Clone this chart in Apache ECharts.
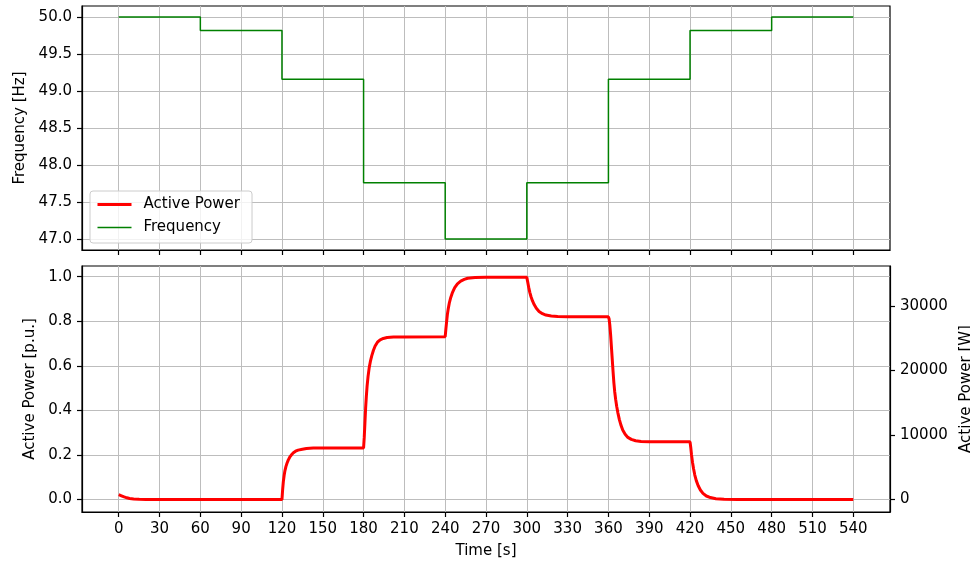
<!DOCTYPE html>
<html>
<head>
<meta charset="utf-8">
<script src="https://cdn.jsdelivr.net/npm/echarts@6/dist/echarts.min.js"></script>
<style>html,body{margin:0;padding:0;background:#fff}#c{width:970px;height:563px}</style>
</head>
<body>
<div id="c"></div>
<script>
// ---- data ----
const timeTicks = [0, 30, 60, 90, 120, 150, 180, 210, 240, 270, 300, 330, 360, 390, 420, 450, 480, 510, 540];
const freqTicks = [47.0, 47.5, 48.0, 48.5, 49.0, 49.5, 50.0];
const puTicks = [0.0, 0.2, 0.4, 0.6, 0.8, 1.0];
const wattTicks = [0, 10000, 20000, 30000];

// frequency steps: [time s, Hz]
const frequency = [
  [0, 50.0], [60, 49.82], [120, 49.16], [180, 47.76], [240, 47.0],
  [300, 47.76], [360, 49.16], [420, 49.82], [480, 50.0], [540, 50.0]
];

// active power: [time s, p.u.]
const activePower = [
  [0, 0.022], [2, 0.017], [4, 0.012], [6, 0.008], [8, 0.005], [11, 0.003], [15, 0.001], [20, 0.0],
  [60, 0.0], [100, 0.0], [120, 0.0],
  [120.5, 0.045], [121, 0.08], [121.6, 0.108], [122.2, 0.13], [122.9, 0.148], [123.7, 0.163], [124.6, 0.177],
  [125.7, 0.19], [127, 0.201], [128.4, 0.21], [130, 0.217], [131.9, 0.222], [135, 0.226],
  [138, 0.229], [143, 0.231], [150, 0.232], [180, 0.232],
  [180.5, 0.28], [181, 0.345], [181.5, 0.41], [182, 0.46], [182.6, 0.51], [183.3, 0.553], [184.1, 0.59],
  [185, 0.62], [186, 0.645], [187.2, 0.669], [188.5, 0.689], [190.2, 0.706], [192.2, 0.717], [194.5, 0.723],
  [197.3, 0.727], [202, 0.729], [210, 0.73], [240, 0.731],
  [240.5, 0.765], [241, 0.795], [241.6, 0.83], [242.3, 0.858], [243.1, 0.884], [244.1, 0.907], [245.4, 0.93],
  [247, 0.951], [249, 0.968], [251.4, 0.98], [254, 0.988], [256.5, 0.993], [262, 0.996],
  [270, 0.997], [300, 0.997],
  [300.7, 0.975], [301.4, 0.952], [302.2, 0.93], [303.1, 0.91], [304.2, 0.891], [305.4, 0.875], [307, 0.858],
  [309, 0.844], [311.5, 0.834], [314, 0.828], [318, 0.824], [322.7, 0.821], [330, 0.82], [360, 0.82],
  [360.5, 0.81], [361, 0.785], [361.6, 0.74], [362.2, 0.685], [362.8, 0.63], [363.4, 0.575], [364, 0.525],
  [364.6, 0.485], [365.3, 0.45], [366.1, 0.418], [367, 0.388], [368, 0.36], [369.2, 0.334], [370.6, 0.311],
  [372.3, 0.293], [374.3, 0.279], [376.8, 0.27], [380, 0.264], [384, 0.261], [390, 0.26], [420, 0.259],
  [420.5, 0.235], [421.1, 0.2], [421.8, 0.168], [422.6, 0.138], [423.5, 0.11], [424.6, 0.085], [426, 0.062],
  [427.6, 0.043], [429.5, 0.028], [432, 0.016], [435, 0.009], [439, 0.004], [445, 0.001], [455, 0.0], [540, 0.0]
];

// ---- chart ----
const FONT = 'DejaVu Sans';
const gridLine = { show: true, lineStyle: { color: '#bdbdbd', width: 1 } };
const spine = { show: true, onZero: false, lineStyle: { color: '#000', width: 1.2 } };
const tick = (vals) => ({ show: true, length: 5, inside: false, customValues: vals, lineStyle: { color: '#000', width: 1.2 } });
const label = (vals, fmt, show) => ({
  show: show !== false, customValues: vals, margin: 10, color: '#000', fontSize: 15, fontFamily: FONT,
  formatter: fmt
});
const nameStyle = { fontSize: 15, fontFamily: FONT, color: '#000' };

const chart = echarts.init(document.getElementById('c'), null, { renderer: 'canvas' });
chart.setOption({
  animation: false,
  backgroundColor: '#fff',
  textStyle: { fontFamily: FONT },
  grid: [
    { left: 82, top: 6, width: 808, height: 244, containLabel: false, outerBoundsMode: 'none',
      show: true, borderColor: '#000', borderWidth: 1.2, backgroundColor: 'transparent' },
    { left: 82, top: 266, width: 808, height: 246, containLabel: false, outerBoundsMode: 'none',
      show: true, borderColor: '#000', borderWidth: 1.2, backgroundColor: 'transparent' }
  ],
  legend: {
    left: 90, top: 191, orient: 'vertical',
    padding: [6, 12, 8, 6], itemGap: 8, itemWidth: 34, itemHeight: 17,
    backgroundColor: 'rgba(255,255,255,0.8)', borderColor: '#cccccc', borderWidth: 1, borderRadius: 3,
    itemStyle: { color: 'transparent', borderWidth: 0, opacity: 0 },
    textStyle: { fontSize: 15, fontFamily: FONT, color: '#000', padding: [0, 0, 0, 7] },
    data: [
      { name: 'Active Power', lineStyle: { width: 3, color: '#ff0000' } },
      { name: 'Frequency', lineStyle: { width: 1.5, color: '#008000' } }
    ]
  },
  xAxis: [
    {
      type: 'value', gridIndex: 0, min: -27, max: 567,
      axisLine: spine, axisTick: tick(timeTicks), axisLabel: label(timeTicks, v => String(v), false),
      splitLine: gridLine
    },
    {
      type: 'value', gridIndex: 1, min: -27, max: 567,
      axisLine: spine, axisTick: tick(timeTicks), axisLabel: label(timeTicks, v => String(v)),
      splitLine: gridLine,
      name: 'Time [s]', nameLocation: 'middle', nameGap: 32, nameTextStyle: nameStyle
    }
  ],
  yAxis: [
    {
      type: 'value', gridIndex: 0, min: 46.85, max: 50.15,
      axisLine: spine, axisTick: tick(freqTicks), axisLabel: label(freqTicks, v => v.toFixed(1)),
      splitLine: gridLine,
      name: 'Frequency [Hz]', nameLocation: 'middle', nameGap: 53, nameTextStyle: nameStyle
    },
    {
      type: 'value', gridIndex: 1, min: -0.0557, max: 1.048,
      axisLine: spine, axisTick: tick(puTicks), axisLabel: label(puTicks, v => v.toFixed(1)),
      splitLine: gridLine,
      name: 'Active Power [p.u.]', nameLocation: 'middle', nameGap: 44, nameTextStyle: nameStyle
    },
    {
      type: 'value', gridIndex: 1, position: 'right', min: -1923, max: 36187,
      axisLine: spine, axisTick: tick(wattTicks), axisLabel: label(wattTicks, v => String(v)),
      splitLine: { show: false },
      name: 'Active Power [W]', nameLocation: 'middle', nameGap: 65, nameTextStyle: nameStyle
    }
  ],
  series: [
    {
      name: 'Active Power', type: 'line', xAxisIndex: 1, yAxisIndex: 1,
      data: activePower, symbol: 'none', showSymbol: false,
      lineStyle: { color: '#ff0000', width: 3 }, itemStyle: { color: '#ff0000' }, z: 3
    },
    {
      name: 'Frequency', type: 'line', xAxisIndex: 0, yAxisIndex: 0, step: 'end',
      data: frequency, symbol: 'none', showSymbol: false,
      lineStyle: { color: '#008000', width: 1.5 }, itemStyle: { color: '#008000' }, z: 3
    }
  ]
});
</script>
</body>
</html>
